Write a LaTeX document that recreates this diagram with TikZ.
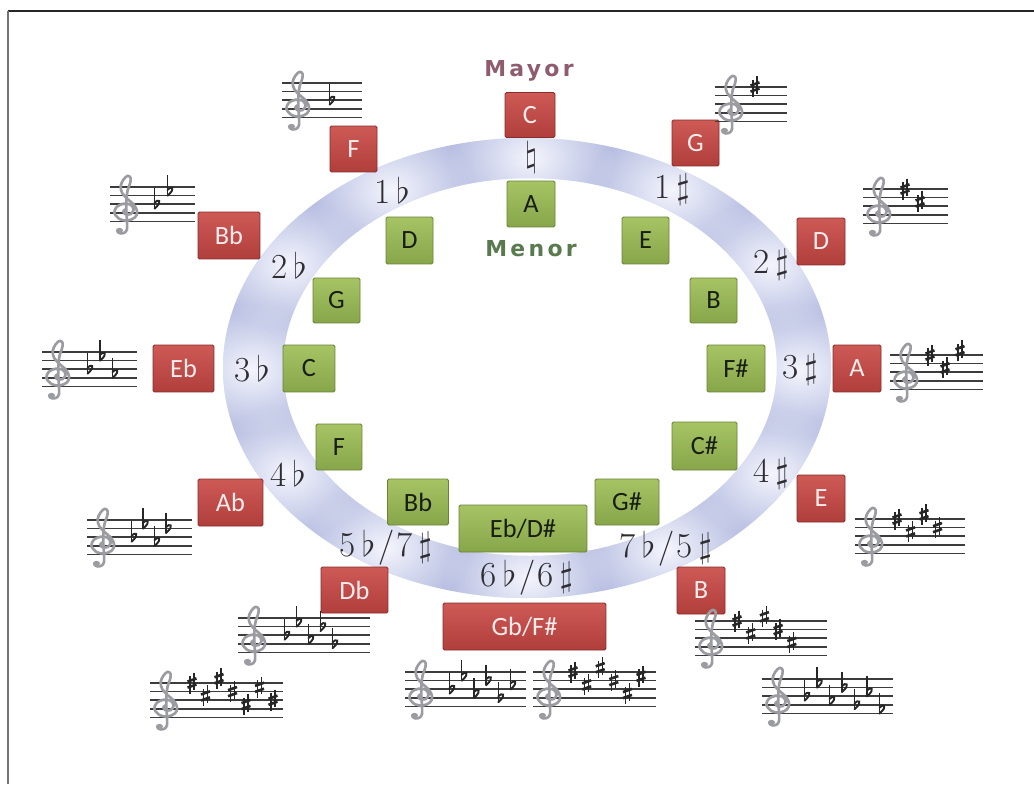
\documentclass[tikz,border=0pt]{standalone}
\usepackage{fix-cm}
\usepackage{fontspec}
\usetikzlibrary{fadings}
\newfontfamily\boxfont{Carlito}
\newfontfamily\headfont[LetterSpace=15]{DejaVu Sans}

\definecolor{ringcol}{RGB}{180,187,224}
\definecolor{glowcol}{RGB}{244,245,253}
\definecolor{majtop}{RGB}{206,90,86}
\definecolor{majbot}{RGB}{176,62,59}
\definecolor{majedge}{RGB}{135,45,43}
\definecolor{majtext}{RGB}{246,236,236}
\definecolor{mintop}{RGB}{166,196,100}
\definecolor{minbot}{RGB}{135,166,74}
\definecolor{minedge}{RGB}{105,130,55}
\definecolor{mintext}{RGB}{25,30,20}
\definecolor{mayorcol}{RGB}{142,92,110}
\definecolor{menorcol}{RGB}{88,122,78}
\definecolor{clefcol}{RGB}{155,155,162}
\definecolor{linecol}{RGB}{60,60,60}
\definecolor{lblcol}{RGB}{45,45,50}

\tikzfading[name=glowfade, inner color=transparent!0, outer color=transparent!100]

\tikzset{
  keybox/.style={line width=0.5pt, rounded corners=0.8pt, inner sep=0pt,
    minimum width=0.96cm, minimum height=0.94cm,
    font=\boxfont\fontsize{15}{15}\selectfont},
  major/.style={keybox, draw=majedge, top color=majtop, bottom color=majbot, text=majtext},
  minor/.style={keybox, draw=minedge, top color=mintop, bottom color=minbot, text=mintext},
  ringlbl/.style={inner sep=0pt, text=lblcol, font=\fontsize{20}{20}\selectfont},
  head/.style={inner sep=0pt, font=\headfont\bfseries\fontsize{12.5}{12.5}\selectfont},
  staffline/.style={draw=linecol, line width=0.95pt},
  clefline/.style={draw=clefcol, line width=1.5pt, line cap=round, line join=round},
  accthin/.style={draw=black!85, line width=0.75pt},
  accbar/.style={draw=black!85, line width=1.5pt},
  accbulb/.style={draw=black!85, line width=1.1pt, line cap=round},
}

% treble clef; #1,#2 = left end of the bottom staff line
\newcommand\gclef[2]{%
  \begin{scope}[shift={({#1},{#2})}, xscale=12, yscale=-8.6]
    \draw[clefline] plot[smooth, tension=0.55] coordinates {
      (1.2,1.45) (0.95,1.2) (1.1,0.85) (1.55,0.85) (1.8,1.35) (1.55,1.95)
      (0.95,2.05) (0.4,1.7) (0.2,1.0) (0.6,0.3) (1.3,0.1) (1.9,0.45)
      (2.1,1.1) (1.85,1.9) (1.3,2.6) (0.85,3.3) (0.72,4.1) (0.95,4.85)
      (1.3,5.3) (1.55,5.05) (1.5,4.4) (1.3,3.6) (1.2,2.5) (1.2,1.2)
      (1.25,0.0) (1.25,-0.9) (1.05,-1.3) (0.7,-1.4) (0.45,-1.2)};
    \fill[clefcol] (0.62,-1.05) circle[radius=0.3];
  \end{scope}}

% sharp and flat signs centred on a staff position
\newcommand\sharpsign[2]{%
  \begin{scope}[shift={({#1},{#2})}]
    \draw[accthin] (-2,-7) -- (-2,10.5) (2,-10.5) -- (2,7);
    \draw[accbar] (-4.5,-1.4) -- (4.5,-4.6) (-4.5,4.6) -- (4.5,1.4);
  \end{scope}}
\newcommand\flatsign[2]{%
  \begin{scope}[shift={({#1},{#2})}]
    \draw[accthin] (-2.5,-16) -- (-2.5,4.5);
    \draw[accbulb] (-2.5,-1.5) .. controls (0.5,-5.5) and (7,-4) .. (-2.5,4.5);
  \end{scope}}

% staff with key signature
% #1 left x, #2 right x, #3 top line y, #4 0 = flats / 1 = sharps,
% #5 number of accidentals, #6 x of first accidental, #7 step
\newcommand\keystaff[7]{%
  \foreach \i in {0,...,4}
    \draw[staffline] ({#1},{#3+\i*8.6}) -- ({#2},{#3+\i*8.6});
  \gclef{#1+2}{#3+34.4}
  \foreach \k in {1,...,#5}{
    \ifnum#4=0
      \pgfmathsetmacro\pp{{4,1,5,2,6,3,7}[\k-1]}
      \flatsign{#6+(\k-1)*#7}{#3+\pp*4.3}
    \else
      \pgfmathsetmacro\pp{{0,3,-1,2,5,1,4}[\k-1]}
      \sharpsign{#6+(\k-1)*#7}{#3+\pp*4.3}
    \fi
  }}

\begin{document}
\begin{tikzpicture}[x=0.02cm, y=-0.02cm]
  \useasboundingbox (0,0) rectangle (1034,784);
  \fill[white] (0,0) rectangle (1034,784);

  % frame
  \draw[black!85, line width=1pt] (8,11) -- (1034,11);
  \draw[black!55, line width=1.2pt] (8,11) -- (8,784);

  % ring of fifths
  \fill[ringcol, even odd rule]
    (527,368) ellipse [x radius=304, y radius=230]
    (530,367) ellipse [x radius=247, y radius=189];
  \begin{scope}[even odd rule]
    \clip
      (527,368) ellipse [x radius=304, y radius=230]
      (530,367) ellipse [x radius=247, y radius=189];
    \foreach \gx/\gy in {531/158, 392/190, 672/190, 289/265, 771/265, 252/369,
                         800/370, 288/473, 771/474, 386/548, 666/549, 527/578}
      \fill[glowcol, path fading=glowfade]
        (\gx,\gy) ellipse [x radius=84, y radius=66];
  \end{scope}

  % ring labels
  \node[ringlbl] (r0)  at (531,158) {$\natural$};
  \node[ringlbl] (rf1) at (392,190) {1\,$\flat$};
  \node[ringlbl] (rs1) at (672,190) {1\,$\sharp$};
  \node[ringlbl] (rf2) at (289,265) {2\,$\flat$};
  \node[ringlbl] (rs2) at (771,265) {2\,$\sharp$};
  \node[ringlbl] (rf3) at (252,369) {3\,$\flat$};
  \node[ringlbl] (rs3) at (800,370) {3\,$\sharp$};
  \node[ringlbl] (rf4) at (288,473) {4\,$\flat$};
  \node[ringlbl] (rs4) at (771,474) {4\,$\sharp$};
  \node[ringlbl] (rf5) at (386,548) {5\,$\flat$\kern2pt/\kern1pt7\,$\sharp$};
  \node[ringlbl] (rs5) at (666,549) {7\,$\flat$\kern2pt/\kern1pt5\,$\sharp$};
  \node[ringlbl] (rs6) at (527,578) {6\,$\flat$\kern2pt/\kern1pt6\,$\sharp$};

  % headings
  \node[head, text=mayorcol] (mayor) at (529,71) {Mayor};
  \node[head, text=menorcol] (menor) at (531,249) {Menor};

  % major keys
  \node[major, minimum width=1.00cm, minimum height=0.90cm] (M-C)  at (530,115) {C};
  \node[major, minimum width=0.94cm, minimum height=0.92cm] (M-G)  at (695.5,143) {G};
  \node[major, minimum width=0.94cm, minimum height=0.92cm] (M-F)  at (353.5,149) {F};
  \node[major, minimum width=1.24cm] (M-Bb) at (229,235.5) {Bb};
  \node[major] (M-D)  at (821,241.5) {D};
  \node[major, minimum width=1.22cm] (M-Eb) at (183.5,368.5) {Eb};
  \node[major] (M-A)  at (857,368.5) {A};
  \node[major, minimum width=1.30cm] (M-Ab) at (230.5,502.5) {Ab};
  \node[major] (M-E)  at (821,498.5) {E};
  \node[major, minimum width=1.34cm, minimum height=0.92cm] (M-Db) at (354.5,590) {Db};
  \node[major] (M-B)  at (701,590.5) {B};
  \node[major, minimum width=3.26cm] (M-Gb) at (524.5,626.5) {Gb/F\#};

  % minor keys
  \node[minor, minimum height=0.92cm] (m-A)  at (531,204) {A};
  \node[minor, minimum width=0.94cm] (m-D)  at (409.5,240.5) {D};
  \node[minor, minimum width=0.94cm] (m-E)  at (645.5,240.5) {E};
  \node[minor, minimum width=0.94cm, minimum height=0.90cm] (m-G)  at (336.5,300.5) {G};
  \node[minor, minimum width=0.94cm, minimum height=0.90cm] (m-B)  at (713.5,300.5) {B};
  \node[minor, minimum width=1.04cm] (m-C)  at (309,368.5) {C};
  \node[minor, minimum width=1.16cm] (m-Fs) at (736,368.5) {F\#};
  \node[minor, minimum width=0.92cm, minimum height=0.92cm] (m-F)  at (339,447) {F};
  \node[minor, minimum width=1.30cm, minimum height=0.96cm] (m-Cs) at (704.5,446) {C\#};
  \node[minor, minimum width=1.22cm, minimum height=0.92cm] (m-Bb) at (418,502) {Bb};
  \node[minor, minimum width=2.56cm] (m-Eb) at (523,528.5) {Eb/D\#};
  \node[minor, minimum width=1.28cm, minimum height=0.92cm] (m-Gs) at (627,502) {G\#};

  % key signatures
  \keystaff{282}{362}{83}{0}{1}{332}{12}
  \keystaff{715}{787}{87}{1}{1}{755}{14}
  \keystaff{110}{195}{187}{0}{2}{157}{13}
  \keystaff{863}{948}{189}{1}{2}{905}{15}
  \keystaff{42}{137}{352}{0}{3}{90}{12.5}
  \keystaff{890}{983}{355}{1}{3}{930}{15}
  \keystaff{87}{192}{520}{0}{4}{134}{11.5}
  \keystaff{855}{965}{519}{1}{4}{897}{13.5}
  \keystaff{238}{370}{618}{0}{5}{287}{12}
  \keystaff{150}{283}{683}{1}{7}{192}{13.5}
  \keystaff{405}{526}{672}{0}{6}{452}{12.2}
  \keystaff{533}{656}{672}{1}{6}{573}{13.6}
  \keystaff{695}{827}{621}{1}{5}{737}{13.7}
  \keystaff{762}{893}{679}{0}{7}{807}{12.5}
\end{tikzpicture}
\end{document}
